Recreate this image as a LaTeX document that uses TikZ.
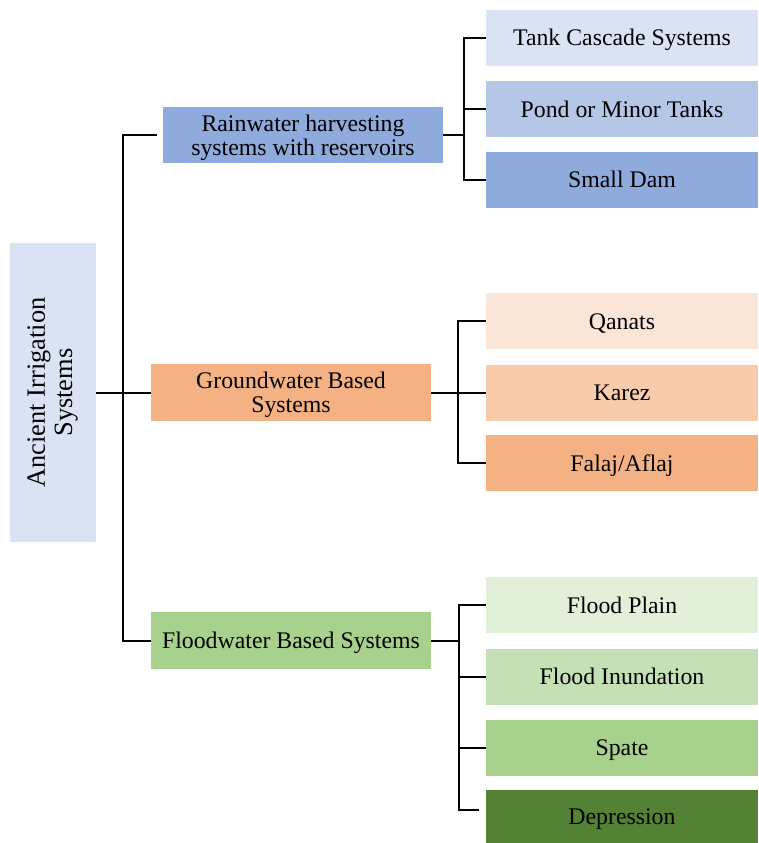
\documentclass[tikz,border=0pt]{standalone}
\usepackage{fontspec}
\setmainfont{Liberation Serif}
\usetikzlibrary{calc}
\definecolor{bA}{HTML}{DAE3F3}
\definecolor{bB}{HTML}{B4C7E7}
\definecolor{bC}{HTML}{8FAADC}
\definecolor{oA}{HTML}{FBE5D6}
\definecolor{oB}{HTML}{F8CBAD}
\definecolor{oC}{HTML}{F4B183}
\definecolor{gA}{HTML}{E2F0D9}
\definecolor{gB}{HTML}{C5E0B4}
\definecolor{gC}{HTML}{A9D18E}
\definecolor{gD}{HTML}{548235}
\newcommand\oneln[1]{\raisebox{0pt}[18pt][2pt]{#1}}
\newcommand\twoln[1]{\raisebox{0pt}[43pt][3pt]{\begin{tabular}[b]{@{}c@{}}#1\end{tabular}}}
\tikzset{
  box/.style={inner sep=0pt, align=center, font=\fontsize{23.8}{24}\selectfont},
  midbox/.style={box, minimum width=280pt, minimum height=56.5pt},
  leaf/.style={box, minimum width=272pt, minimum height=56pt},
  conn/.style={draw=black, line width=2pt, line join=miter}
}
\begin{document}
\begin{tikzpicture}[x=1pt,y=-1pt]
\useasboundingbox (0,0) rectangle (758,843);
% root
\node[box, font=\fontsize{26.4}{27.5}\selectfont, fill=bA, minimum width=86pt, minimum height=299pt] (root) at (53,392.5)
  {\rotatebox{90}{\begin{tabular}{@{}c@{}}Ancient Irrigation\\Systems\end{tabular}}};
% middle level
\node[midbox, fill=bC] (rain) at (303,135) {\twoln{Rainwater harvesting\\systems with reservoirs}};
\node[midbox, fill=oC] (gw) at (291,392.5) {\twoln{Groundwater Based\\Systems}};
\node[midbox, fill=gC] (fl) at (291,640.5) {\oneln{Floodwater Based Systems}};
% leaves
\node[leaf, fill=bA] (tank) at (622,38) {\oneln{Tank Cascade Systems}};
\node[leaf, fill=bB] (pond) at (622,109) {\oneln{Pond or Minor Tanks}};
\node[leaf, fill=bC] (dam) at (622,179.5) {\oneln{Small Dam}};
\node[leaf, fill=oA] (qan) at (622,321) {\oneln{Qanats}};
\node[leaf, fill=oB] (kar) at (622,392.5) {\oneln{Karez}};
\node[leaf, fill=oC] (fal) at (622,463) {\oneln{Falaj/Aflaj}};
\node[leaf, fill=gA] (fp) at (622,605) {\oneln{Flood Plain}};
\node[leaf, fill=gB] (fi) at (622,676.5) {\oneln{Flood Inundation}};
\node[leaf, fill=gC] (sp) at (622,747.5) {\oneln{Spate}};
\node[leaf, fill=gD, minimum height=53pt] (dep) at (622,816.5) {\oneln{Depression}};
% bracket x positions
\coordinate (tk) at (123,0);
\coordinate (rb) at (464,0);
\coordinate (gb) at (458,0);
\coordinate (fb) at (459,0);
% trunk
\draw[conn] (root.east) -- (gw.west);
\draw[conn] ([xshift=-6pt]rain.west) -| (tk |- fl.west) -- (fl.west);
% rainwater bracket
\draw[conn] (rain.east) -- (rain.east -| rb);
\draw[conn] (tank.west) -| (rb |- dam.west) -- (dam.west);
\draw[conn] (pond.west) -- (pond.west -| rb);
% groundwater bracket
\draw[conn] (gw.east) -- (kar.west);
\draw[conn] (qan.west) -| (gb |- fal.west) -- (fal.west);
% floodwater bracket
\draw[conn] (fl.east) -- (fl.east -| fb);
\coordinate (depc) at ($(dep.west)+(-7,-6.5)$);
\draw[conn] (fp.west) -| (fb |- depc) -- (depc);
\draw[conn] (fi.west) -- (fi.west -| fb);
\draw[conn] (sp.west) -- (sp.west -| fb);
\end{tikzpicture}
\end{document}
